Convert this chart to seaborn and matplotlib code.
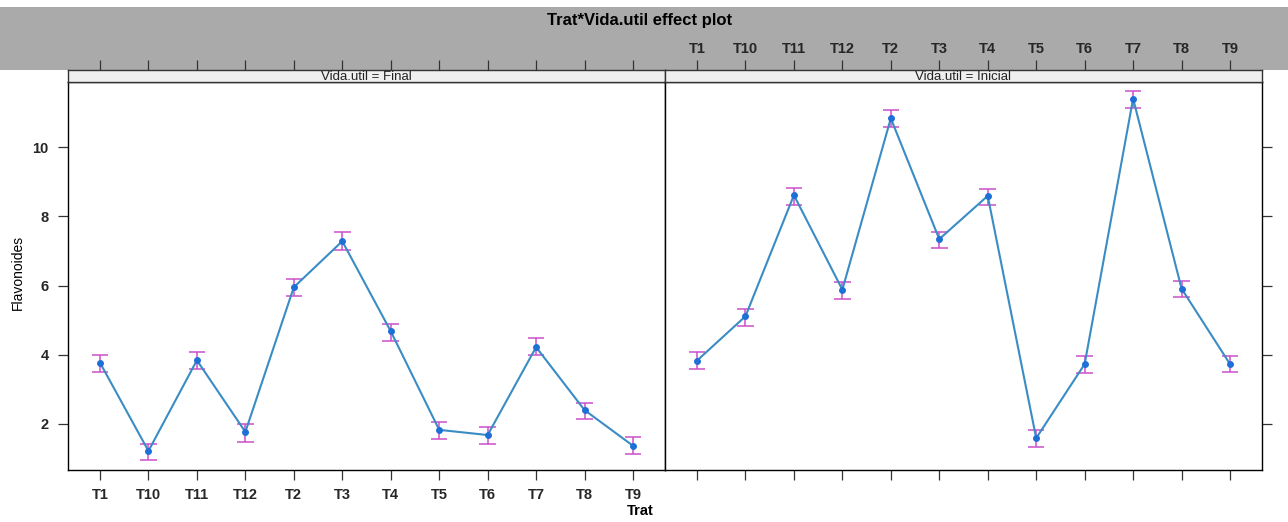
import numpy as np
import pandas as pd
import matplotlib
matplotlib.use("Agg")
import matplotlib.pyplot as plt
import seaborn as sns
from matplotlib.patches import Rectangle

trat = ["T1", "T10", "T11", "T12", "T2", "T3", "T4", "T5", "T6", "T7", "T8", "T9"]
final_fit = [3.77, 1.22, 3.84, 1.77, 5.95, 7.28, 4.68, 1.83, 1.68, 4.22, 2.40, 1.37]
final_lower = [3.51, 0.96, 3.58, 1.49, 5.69, 7.04, 4.41, 1.58, 1.42, 3.99, 2.13, 1.12]
final_upper = [3.98, 1.41, 4.08, 1.99, 6.19, 7.54, 4.89, 2.07, 1.90, 4.48, 2.62, 1.61]
inicial_fit = [3.83, 5.11, 8.61, 5.88, 10.83, 7.34, 8.59, 1.59, 3.73, 11.40, 5.91, 3.73]
inicial_lower = [3.59, 4.84, 8.34, 5.61, 10.58, 7.09, 8.32, 1.33, 3.47, 11.13, 5.66, 3.49]
inicial_upper = [4.07, 5.32, 8.82, 6.11, 11.06, 7.56, 8.80, 1.83, 3.95, 11.62, 6.14, 3.97]
panels = ["Final", "Inicial"]
yticks = [2, 4, 6, 8, 10]

frames = []
for name, fit, lo, up in [("Final", final_fit, final_lower, final_upper),
                          ("Inicial", inicial_fit, inicial_lower, inicial_upper)]:
    frames.append(pd.DataFrame({"Trat": trat, "pos": np.arange(len(trat)),
                                "fit": fit, "lower": lo, "upper": up,
                                "Vida.util": name}))
df = pd.concat(frames, ignore_index=True)

sns.set_style("white")
plt.rcParams["font.family"] = ["Liberation Sans", "DejaVu Sans"]

W, H = 1288, 522
fig = plt.figure(figsize=(W / 100, H / 100), dpi=100)
fig.patch.set_facecolor("white")

# grey header (drawn beneath everything)
fig.patches.append(Rectangle((0, 1 - 70 / H), 1, 63 / H, transform=fig.transFigure,
                             facecolor="#aaaaaa", edgecolor="none", zorder=-5))
fig.text(640 / W, 1 - 20 / H, "Trat*Vida.util effect plot", ha="center", va="center",
         fontsize=12, fontweight="bold", color="black")

line_col = "#3a8cc4"
pt_col = "#1e6fd6"
err_col = "#cc4fcc"

pl_left, pl_w = 68, 597
top_plot, bot_plot, strip_top = 82, 470, 70

for i, panel in enumerate(panels):
    sub = df[df["Vida.util"] == panel]
    l = (pl_left + i * pl_w) / W
    ax = fig.add_axes([l, 1 - bot_plot / H, pl_w / W, (bot_plot - top_plot) / H])
    sax = fig.add_axes([l, 1 - top_plot / H, pl_w / W, (top_plot - strip_top) / H])

    # error bars
    ax.vlines(sub["pos"], sub["lower"], sub["upper"], color=err_col, lw=1.1, zorder=2)
    ax.hlines(sub["lower"], sub["pos"] - 0.17, sub["pos"] + 0.17, color=err_col, lw=1.1, zorder=2)
    ax.hlines(sub["upper"], sub["pos"] - 0.17, sub["pos"] + 0.17, color=err_col, lw=1.1, zorder=2)

    sns.lineplot(data=sub, x="pos", y="fit", ax=ax, color=line_col, lw=1.5,
                 marker="o", markersize=4.2, markerfacecolor=pt_col,
                 markeredgecolor=pt_col, zorder=3, sort=False)

    xlim = (-0.66, len(trat) - 1 + 0.66)
    ax.set_xlim(*xlim)
    ax.set_ylim(0.67, 11.88)
    ax.set_xlabel("")
    ax.set_ylabel("")
    ax.set_xticks(np.arange(len(trat)))
    ax.set_xticklabels(trat)
    ax.set_yticks(yticks)
    ax.set_yticklabels([str(v) for v in yticks])
    for s in ax.spines.values():
        s.set_color("black")
        s.set_linewidth(1.0)
        s.set_visible(True)
    ax.tick_params(axis="x", direction="out", length=7, width=0.9, color="#333333",
                   pad=6, labelsize=10.5, bottom=True, top=False, labelbottom=(i == 0))
    for t in ax.get_xticklabels():
        t.set_fontweight("bold")
    if i == 0:
        ax.tick_params(axis="y", direction="out", length=7, width=0.9, color="#333333",
                       pad=7, labelsize=10.5, left=True, right=False, labelleft=True)
        for t in ax.get_yticklabels():
            t.set_fontweight("bold")
    else:
        ax.tick_params(axis="y", direction="out", length=7, width=0.9, color="#333333",
                       left=False, right=True, labelleft=False, labelright=False)

    # strip with top ticks
    sax.set_facecolor("#efefef")
    sax.set_xlim(*xlim)
    sax.set_ylim(0, 1)
    sax.set_yticks([])
    sax.set_xticks(np.arange(len(trat)))
    sax.set_xticklabels(trat)
    for s in sax.spines.values():
        s.set_color("#333333")
        s.set_linewidth(1.0)
        s.set_visible(True)
    sax.tick_params(axis="x", direction="out", length=7, width=0.9, color="#333333",
                    pad=3, labelsize=10.5, top=True, bottom=False,
                    labeltop=(i == 1), labelbottom=False)
    for t in sax.get_xticklabels():
        t.set_fontweight("bold")
    sax.text(0.5, 0.45, f"Vida.util = {panel}", transform=sax.transAxes,
             ha="center", va="center", fontsize=9.5, color="#222222")

fig.text(18 / W, 1 - 272 / H, "Flavonoides", rotation=90, ha="center", va="center",
         fontsize=10, color="black")
fig.text(640 / W, 1 - 511 / H, "Trat", ha="center", va="center",
         fontsize=10.5, fontweight="bold", color="black")

fig.savefig("out.png", dpi=100)
